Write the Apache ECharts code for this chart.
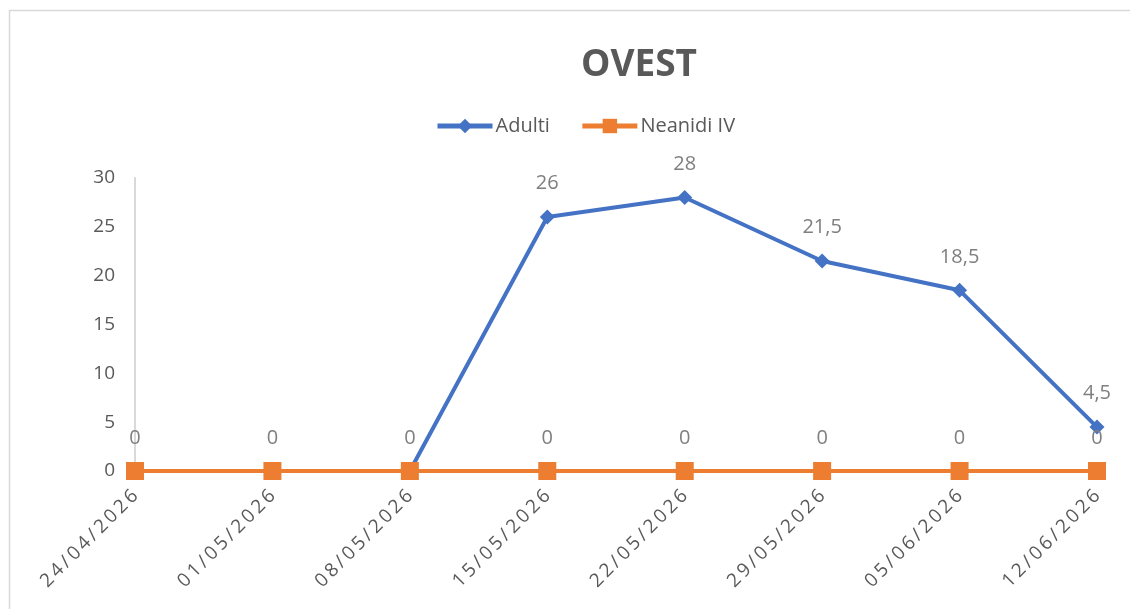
<!DOCTYPE html>
<html>
<head>
<meta charset="utf-8">
<script src="https://cdn.jsdelivr.net/npm/echarts@6/dist/echarts.min.js"></script>
<style>
  html, body { margin: 0; padding: 0; background: #fff; }
  #chart { width: 1130px; height: 609px; }
</style>
</head>
<body>
<div id="chart"></div>
<script>
const dates = ["24/04/2026", "01/05/2026", "08/05/2026", "15/05/2026",
  "22/05/2026", "29/05/2026", "05/06/2026", "12/06/2026"];
const adulti = [0, 0, 0, 26, 28, 21.5, 18.5, 4.5];
const neanidi = [0, 0, 0, 0, 0, 0, 0, 0];
const yTicks = [0, 5, 10, 15, 20, 25, 30];

const textGrey = "#595959";
const fontFam = "'Open Sans', 'Noto Sans', sans-serif";

const chart = echarts.init(document.getElementById("chart"));

// etichette con la virgola decimale
const fmt = (p) => String(p.value).replace(".", ",");
// le etichette a zero di Adulti coincidono con quelle di Neanidi IV
const fmtAdulti = (p) => (p.value === 0 ? "" : fmt(p));
// date un po' spaziate come nell'originale
const spaced = (v) => v.split("").join("\u2009");

chart.setOption({
  animation: false,
  graphic: [{
    type: "rect",
    shape: { x: 9.5, y: 10.5, width: 1200, height: 700 },
    style: { fill: "none", stroke: "#d9d9d9", lineWidth: 1.5 },
    silent: true
  }],
  title: {
    text: "OVEST",
    left: 634,
    top: 42,
    textAlign: "center",
    textStyle: { color: textGrey, fontSize: 37, fontWeight: "bold", fontFamily: fontFam }
  },
  legend: {
    top: 111,
    left: 430,
    itemWidth: 55,
    itemHeight: 18,
    itemGap: 30,
    lineStyle: { width: 5 },
    textStyle: { color: textGrey, fontSize: 20, fontFamily: fontFam, padding: [0, 0, 0, -2] }
  },
  grid: { left: 135, right: 33, top: 178, bottom: 138 },
  xAxis: {
    type: "category",
    data: dates,
    boundaryGap: false,
    axisLine: { show: false },
    axisTick: { show: false },
    axisLabel: {
      rotate: 45,
      color: textGrey,
      fontSize: 19,
      fontFamily: fontFam,
      margin: 22,
      formatter: spaced
    }
  },
  yAxis: {
    type: "value",
    min: yTicks[0],
    max: yTicks[yTicks.length - 1],
    interval: 5,
    splitLine: { show: false },
    axisLine: { show: true, lineStyle: { color: "#d9d9d9", width: 2 } },
    axisTick: { show: false },
    axisLabel: { color: textGrey, fontSize: 19, fontFamily: fontFam, margin: 20 }
  },
  series: [
    {
      name: "Adulti",
      type: "line",
      data: adulti,
      symbol: "diamond",
      symbolSize: 15,
      lineStyle: { color: "#4472C4", width: 4 },
      itemStyle: { color: "#4472C4" },
      label: {
        show: true, position: "top", distance: 16, formatter: fmtAdulti,
        color: "#7f7f7f", fontSize: 20, fontFamily: fontFam
      }
    },
    {
      name: "Neanidi IV",
      type: "line",
      data: neanidi,
      symbol: "rect",
      symbolSize: 18,
      lineStyle: { color: "#ED7D31", width: 4 },
      itemStyle: { color: "#ED7D31" },
      label: {
        show: true, position: "top", distance: 14, formatter: fmt,
        color: "#7f7f7f", fontSize: 20, fontFamily: fontFam
      }
    }
  ]
});
</script>
</body>
</html>
